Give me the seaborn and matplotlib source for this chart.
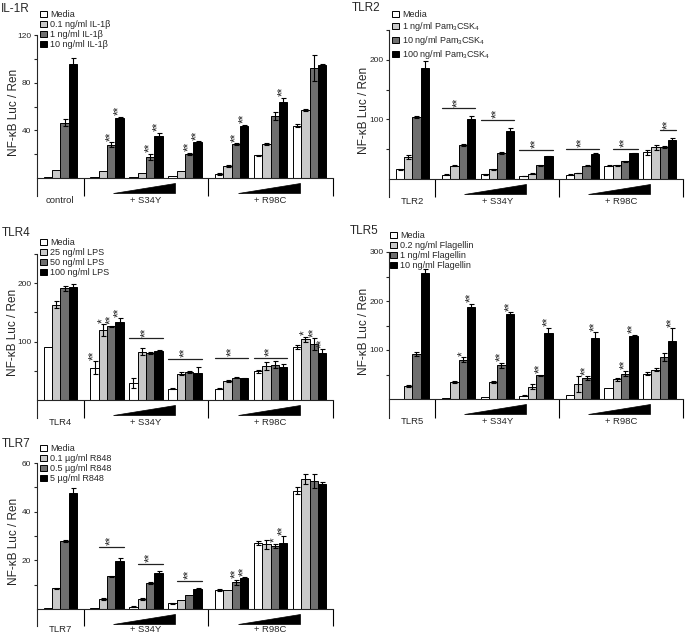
import numpy as np
import pandas as pd
import matplotlib
matplotlib.use("Agg")
import matplotlib.pyplot as plt
from matplotlib.patches import Patch, Polygon, Rectangle
import seaborn as sns

sns.set_style("white")
plt.rcParams["font.family"] = ["Liberation Sans", "DejaVu Sans"]
plt.rcParams["mathtext.default"] = "regular"

# ---------------- shared categories ----------------
CLUSTER_GROUP = [0, 1, 1, 1, 2, 2, 2]          # control | + S34Y x3 | + R98C x3
GROUP_LABELS = ["+ S34Y", "+ R98C"]
COLORS = ["#ffffff", "#c9c9c9", "#6f6f6f", "#000000"]
YLABEL = "NF-κB Luc / Ren"

# ---------------- IL-1R ----------------
IL1R_DOSES = ["Media", "0.1 ng/ml IL-1β", "1 ng/ml IL-1β", "10 ng/ml IL-1β"]
IL1R_MEAN = [[0.5, 7, 46.5, 96], [0.5, 5.5, 28, 50.5], [0.8, 4.5, 18, 35.5],
             [1.5, 6, 20, 30], [3.5, 10, 28.5, 44], [19, 28.5, 52, 63.5],
             [44, 57, 92, 95]]
IL1R_ERR = [[0, 0, 3, 4.5], [0, 0, 2, 0.7], [0, 0, 2.5, 2.5], [0, 0, 1, 1],
            [0.7, 0.5, 0.5, 0.5], [0.7, 0.7, 3.5, 4], [1, 0.7, 11, 0.5]]
IL1R_STARS = [(1, 2, "**"), (1, 3, "**"), (2, 2, "**"), (2, 3, "**"),
              (3, 2, "**"), (3, 3, "**"), (4, 2, "**"), (4, 3, "**"), (5, 3, "**")]
IL1R_LINES = []

# ---------------- TLR2 ----------------
TLR2_DOSES = ["Media", "1 ng/ml Pam$_3$CSK$_4$", "10 ng/ml Pam$_3$CSK$_4$",
              "100 ng/ml Pam$_3$CSK$_4$"]
TLR2_MEAN = [[16, 36.5, 104, 186], [7.5, 22.5, 57, 100], [8, 16, 43.5, 80],
             [5, 9, 23, 38], [7.5, 10, 22, 42], [22, 23, 30, 43],
             [45, 53, 53.5, 66]]
TLR2_ERR = [[1, 3.5, 1.5, 12], [1, 1, 1.5, 6], [1, 1, 1, 5], [0.5, 0.5, 1, 1],
            [0.5, 0.5, 1, 1], [1, 1, 1, 1], [4, 4, 1.5, 2]]
TLR2_STARS = []
TLR2_LINES = [(1, 0, 3, 119, "**"), (2, 0, 3, 99, "**"), (3, 0, 3, 49, "**"),
              (4, 0, 3, 51, "**"), (5, 1, 3, 51, "**"), (6, 2, 3, 82, "**")]

# ---------------- TLR4 ----------------
TLR4_DOSES = ["Media", "25 ng/ml LPS", "50 ng/ml LPS", "100 ng/ml LPS"]
TLR4_MEAN = [[91, 163, 191, 194], [55, 120, 126, 134], [29, 83, 80, 84.5],
             [19, 45, 48.5, 47], [19, 33, 38, 37], [49, 58, 60, 56],
             [91, 104, 96, 80.5]]
TLR4_ERR = [[0, 6, 5, 4], [11, 10, 1, 6], [9, 6, 1.5, 1], [1, 3, 1.5, 10],
            [1, 2, 1, 1], [3, 7, 6, 5], [4, 4, 10, 6]]
TLR4_STARS = [(1, 0, "**"), (1, 1, "*"), (1, 2, "**"), (1, 3, "**"),
              (6, 1, "*"), (6, 2, "**"), (6, 3, "**")]
TLR4_LINES = [(2, 0, 3, 106, "**"), (3, 0, 3, 71, "**"),
              (4, 0, 3, 72, "**"), (5, 0, 3, 72.5, "**")]

# ---------------- TLR5 ----------------
TLR5_DOSES = ["Media", "0.2 ng/ml Flagellin", "1 ng/ml Flagellin", "10 ng/ml Flagellin"]
TLR5_MEAN = [[1, 26, 91, 258], [3, 34, 80, 188], [4, 34, 68.5, 173.5],
             [7, 25, 48, 134], [9, 31, 42, 123.5], [22.5, 40.5, 52, 128],
             [52, 60, 86, 119]]
TLR5_ERR = [[0, 2, 4, 8], [0, 2, 5, 6], [0, 2, 5, 4], [1, 5, 2, 11],
            [0, 16, 4, 13], [0, 3, 6, 3], [3, 3, 8, 25]]
TLR5_STARS = [(1, 2, "*"), (1, 3, "**"), (2, 2, "**"), (2, 3, "**"),
              (3, 2, "**"), (3, 3, "**"), (4, 2, "**"), (4, 3, "**"),
              (5, 2, "**"), (5, 3, "**"), (6, 3, "**")]
TLR5_LINES = []

# ---------------- TLR7 ----------------
TLR7_DOSES = ["Media", "0.1 µg/ml R848", "0.5 µg/ml R848", "5 µg/ml R848"]
TLR7_MEAN = [[0.6, 8.5, 28, 47.7], [0.6, 4.1, 13.4, 19.6], [1, 4.1, 10.8, 15],
             [2.3, 3.6, 5.9, 8.2], [7.8, 7.9, 11, 12.6], [27.1, 26.6, 25.9, 27.3],
             [48.6, 53.4, 52.6, 51.5]]
TLR7_ERR = [[0, 0.3, 0.5, 2], [0, 0.3, 0.3, 1.5], [0.2, 0.3, 0.5, 0.5],
            [0.3, 0, 0, 0.5], [0.4, 0, 1, 0.5], [1, 1.8, 1, 2.5],
            [1.5, 2, 2.8, 0.5]]
TLR7_STARS = [(4, 2, "**"), (4, 3, "**"), (5, 2, "*"), (5, 3, "**")]
TLR7_LINES = [(1, 1, 3, 25.6, "**"), (2, 1, 3, 18.5, "**"), (3, 1, 3, 11.6, "**")]

# ---------------- layout (pixels) ----------------
W, H = 685, 634
GAP = 0.2
PANELS = [
    # title, first label, doses, mean, err, stars, lines,
    # (left, right, top, zero, bottom), ytop, major step, title xy, legend xy, ylabel right x
    ("IL-1R", "control", IL1R_DOSES, IL1R_MEAN, IL1R_ERR, IL1R_STARS, IL1R_LINES,
     (37, 333, 35, 178, 196), 120, 40, (1, 9), (40, 10), 20),
    ("TLR2", "TLR2", TLR2_DOSES, TLR2_MEAN, TLR2_ERR, TLR2_STARS, TLR2_LINES,
     (389, 683, 30, 179, 197), 250, 100, (352, 8), (392, 10), 370),
    ("TLR4", "TLR4", TLR4_DOSES, TLR4_MEAN, TLR4_ERR, TLR4_STARS, TLR4_LINES,
     (37, 333, 254, 400, 418), 250, 100, (2, 233), (40, 238), 19),
    ("TLR5", "TLR5", TLR5_DOSES, TLR5_MEAN, TLR5_ERR, TLR5_STARS, TLR5_LINES,
     (389, 683, 252, 399, 418), 300, 100, (350, 231), (390, 231), 370),
    ("TLR7", "TLR7", TLR7_DOSES, TLR7_MEAN, TLR7_ERR, TLR7_STARS, TLR7_LINES,
     (37, 333, 463, 609, 626), 60, 20, (2, 444), (40, 444), 20),
]

fig = plt.figure(figsize=(W / 100, H / 100), dpi=100)
STAR_FS = 8.5


def draw_panel(title, first_label, doses, means, errs, stars, lines,
               box, ytop, step, title_xy, leg_xy, ylab_x):
    left, right, top, zero, bottom = box
    ax = fig.add_axes([left / W, 1 - bottom / H, (right - left) / W, (bottom - top) / H])
    upp = ytop / (zero - top)            # data units per pixel
    ybot = -(bottom - zero) * upp
    pos = [i + GAP * g for i, g in enumerate(CLUSTER_GROUP)]

    df = pd.DataFrame({
        "pos": np.repeat(pos, len(doses)),
        "dose": doses * len(pos),
        "value": np.ravel(means),
    })
    sns.barplot(data=df, x="pos", y="value", hue="dose", hue_order=doses,
                palette=dict(zip(doses, COLORS)), native_scale=True, width=0.86,
                errorbar=None, edgecolor="black", linewidth=0.7, legend=False,
                ax=ax, zorder=2)

    bars = sorted([p for p in ax.patches if isinstance(p, Rectangle)],
                  key=lambda p: p.get_x())
    xs = np.array([b.get_x() + b.get_width() / 2 for b in bars])
    hs = np.array([b.get_height() for b in bars])
    e = np.ravel(errs)
    m = e > 0
    ax.errorbar(xs[m], hs[m], yerr=e[m], fmt="none", ecolor="black",
                elinewidth=0.8, capsize=1.8, capthick=0.8, zorder=3)

    for c, d, t in stars:
        k = c * len(doses) + d
        ax.text(xs[k], hs[k] + e[k] + 1.5 * upp, t, rotation=90, ha="center",
                va="bottom", fontsize=STAR_FS, zorder=4)
    for c, d0, d1, y, t in lines:
        b0 = bars[c * len(doses) + d0]
        b1 = bars[c * len(doses) + d1]
        x0, x1 = b0.get_x(), b1.get_x() + b1.get_width()
        ax.plot([x0, x1], [y, y], color="#222222", lw=0.9, zorder=4)
        ax.text((x0 + x1) / 2, y + 1.5 * upp, t, rotation=90, ha="center",
                va="bottom", fontsize=STAR_FS, zorder=4)

    ax.set_xlim(-0.6, pos[-1] + 0.6)
    ax.set_ylim(ybot, ytop)
    for s in ["top", "right"]:
        ax.spines[s].set_visible(False)
    ax.spines["bottom"].set_position(("data", 0))
    ax.spines["bottom"].set_linewidth(0.8)
    ax.spines["left"].set_linewidth(0.8)
    ax.set_xticks([])
    ax.set_xlabel("")
    ax.set_yticks(np.arange(step, ytop + 0.01, step))
    ax.set_yticks(np.arange(step / 2, ytop + 0.01, step), minor=True)
    ax.tick_params(axis="y", which="both", length=2.5, width=0.8, labelsize=6,
                   pad=1.5, left=True, direction="out")
    ax.set_ylabel(YLABEL, fontsize=8.5)
    ax.yaxis.set_label_coords((ylab_x - left) / (right - left), 0.52)

    # group separators below the baseline
    seps = [(pos[0] + pos[1]) / 2, (pos[3] + pos[4]) / 2, pos[-1] + 0.6]
    ax.vlines(seps, ybot, 0, color="black", lw=0.8, clip_on=False)

    # dose wedges
    for g0, g1 in [(1, 3), (4, 6)]:
        x0, x1 = pos[g0] + 0.15, pos[g1] - 0.25
        tri = Polygon([(x0, -15 * upp), (x1, -15 * upp), (x1, -4.5 * upp)],
                      closed=True, facecolor="black", edgecolor="black", lw=0.5,
                      clip_on=False)
        ax.add_patch(tri)

    # group labels
    off = min(22.5, H - 5 - zero)
    for x, lab in zip([pos[0], pos[2], pos[5]], [first_label] + GROUP_LABELS):
        ax.text(x, -off * upp, lab, ha="center", va="center", fontsize=6.8,
                clip_on=False)

    # panel title
    fig.text(title_xy[0] / W, 1 - title_xy[1] / H, title, ha="left", va="center",
             fontsize=8.5)

    handles = [Patch(facecolor=c, edgecolor="black", linewidth=0.7, label=d)
               for c, d in zip(COLORS, doses)]
    ax.legend(handles=handles, loc="upper left",
              bbox_to_anchor=(leg_xy[0] / W, 1 - leg_xy[1] / H),
              bbox_transform=fig.transFigure, frameon=False, fontsize=6.5,
              handlelength=0.75, handleheight=0.75, handletextpad=0.4,
              labelspacing=0.12, borderpad=0, borderaxespad=0)


for spec in PANELS:
    draw_panel(*spec)

fig.savefig("out.png", dpi=100)
